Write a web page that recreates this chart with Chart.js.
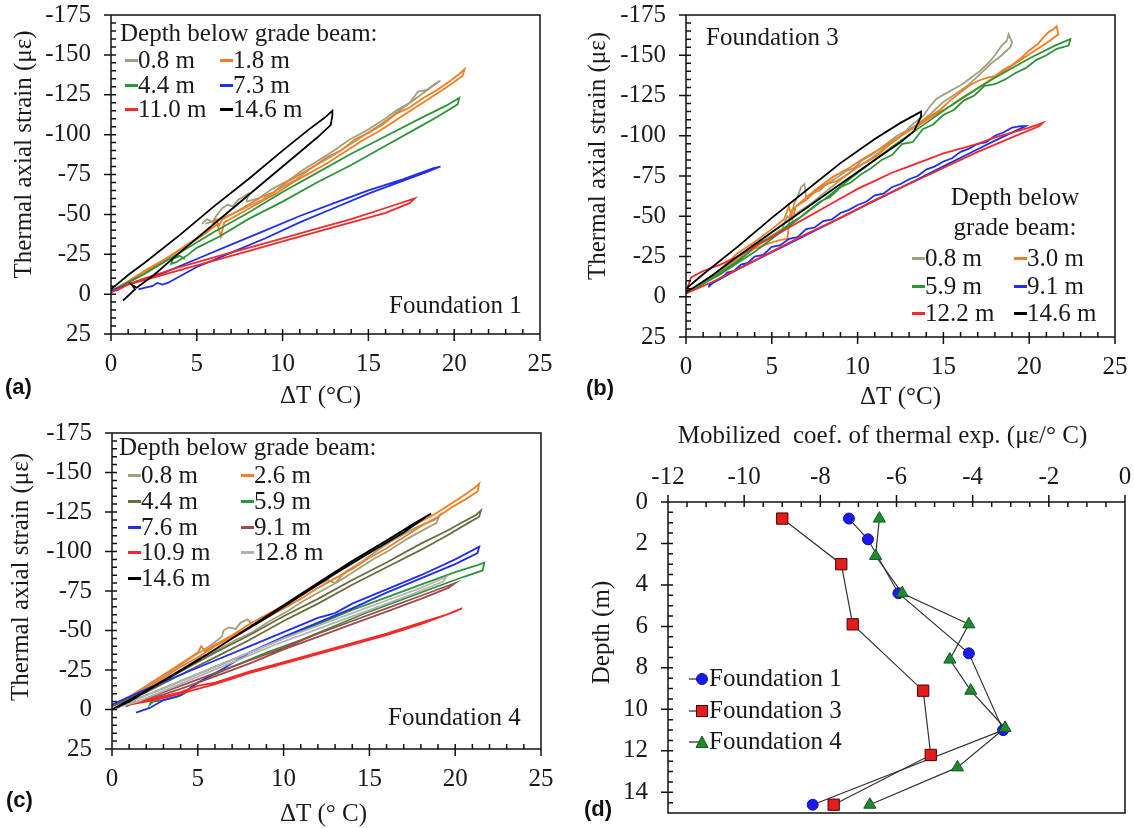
<!DOCTYPE html>
<html>
<head>
<meta charset="utf-8">
<title>Thermal axial strain vs temperature change</title>
<script src="https://cdn.jsdelivr.net/npm/chart.js@4.4.1/dist/chart.umd.min.js"></script>
<style>
  body { margin: 0; background: #fff; }
  #page { position: relative; width: 1134px; height: 828px; overflow: hidden;
          font-family: "Liberation Serif", "Times New Roman", serif; color: #1a1a1a; }
  canvas { position: absolute; }
  .txt { position: absolute; font-size: 25px; line-height: 26px; white-space: nowrap; }
  .tag { position: absolute; font: bold 22px/26px "Liberation Sans", Arial, sans-serif; color: #111; }
  .legend { position: absolute; display: grid; font-size: 25px; white-space: nowrap; }
  .legend i { display: inline-block; width: 13px; height: 3px; vertical-align: 6px; }
  .legend svg { vertical-align: -1px; }
</style>
</head>
<body>
<div id="page">
  <canvas id="chartA" width="565" height="410" style="left:0;top:0"></canvas>
  <canvas id="chartB" width="564" height="410" style="left:570px;top:0"></canvas>
  <canvas id="chartC" width="565" height="418" style="left:0;top:410px"></canvas>
  <canvas id="chartD" width="564" height="418" style="left:570px;top:410px"></canvas>

  <div class="txt" style="left:120px;top:20px">Depth below grade beam:</div>
  <div class="legend" id="legendA" style="left:125px;top:48px;grid-template-columns:95px 95px;line-height:24.5px"></div>
  <div class="txt" style="left:389px;top:292px">Foundation 1</div>

  <div class="txt" style="left:706px;top:24px">Foundation 3</div>
  <div class="txt" style="left:940px;top:182px;width:150px;text-align:center;line-height:30px">Depth below<br>grade beam:</div>
  <div class="legend" id="legendB" style="left:912px;top:244px;grid-template-columns:102px 102px;line-height:27.5px"></div>

  <div class="txt" style="left:119px;top:434px">Depth below grade beam:</div>
  <div class="legend" id="legendC" style="left:128px;top:462px;grid-template-columns:113px 113px;line-height:25.8px"></div>
  <div class="txt" style="left:388px;top:704px">Foundation 4</div>

  <div class="legend" id="legendD" style="left:689px;top:662px;grid-template-columns:170px;line-height:31.5px"></div>

  <div class="tag" style="left:5px;top:374px">(a)</div>
  <div class="tag" style="left:586px;top:375px">(b)</div>
  <div class="tag" style="left:6px;top:787px">(c)</div>
  <div class="tag" style="left:584px;top:796px">(d)</div>
</div>

<script>
// ---------- (a) Foundation 1: [dT (°C), strain (µε)] ----------
const depthsA = ["0.8 m", "1.8 m", "4.4 m", "7.3 m", "11.0 m", "14.6 m"];
const a08 = [[5.3,-44],[5.6,-47],[5.9,-45],[6.2,-50],[6.5,-54],[6.8,-56],[7.1,-55],[7.4,-59],[7.7,-61],[8.0,-63],[7.9,-58],[8.6,-60],[9.4,-66],[10.3,-71],[11.2,-78],[12.1,-84],[13.0,-90],[13.9,-97],[14.8,-102],[15.7,-108],[16.6,-115],[17.4,-120],[17.9,-127],[18.4,-128],[18.9,-132],[19.2,-134],[18.7,-130],[17.8,-123],[16.8,-115],[15.8,-107],[14.8,-100],[13.8,-93],[12.8,-86],[11.8,-80],[10.8,-72],[9.8,-66],[8.8,-59],[7.8,-54],[6.8,-49],[6.0,-46],[5.5,-44]];
const a18 = [[0,-2],[1,-8],[2,-15],[3,-21],[4,-28],[5,-35],[5.8,-41],[6.1,-47],[6.3,-43],[6.5,-47],[7.2,-51],[8,-56],[8.8,-61],[9.5,-64],[10.2,-70],[11,-75],[11.8,-80],[12.6,-86],[13.4,-90],[14.2,-97],[15,-101],[15.8,-106],[16.6,-113],[17.4,-117],[18.2,-123],[19,-128],[19.8,-134],[20.3,-138],[20.6,-141],[20.5,-137],[19.6,-130],[18.6,-123],[17.6,-116],[16.6,-109],[15.6,-102],[14.6,-96],[13.6,-89],[12.6,-82],[11.6,-76],[10.6,-70],[9.6,-63],[8.6,-57],[7.6,-51],[6.6,-45],[6.4,-36],[6.2,-44],[5.5,-38],[4.5,-31],[3.5,-24],[2.5,-17],[1.5,-10],[0.5,-4],[0,-1]];
const a44 = [[0,-2],[2,-13],[4,-26],[6,-39],[8,-51],[10,-64],[12,-76],[14,-88],[16,-99],[18,-110],[19.5,-118],[20.3,-123],[20.2,-119],[19,-111],[18,-105],[16,-93],[14,-81],[12,-70],[10,-58],[8,-47],[6.3,-36],[5,-29],[4.4,-24],[3.8,-20],[3.5,-19],[3.6,-22],[4.0,-24],[4.3,-22]];
const a73 = [[1.6,-3],[2.0,-4],[2.4,-5],[2.7,-7],[3.0,-6],[3.3,-7],[5,-17],[7,-26],[9,-35],[11,-45],[13,-54],[15,-63],[17,-71],[18.5,-77],[19.2,-80],[18.8,-79],[17,-72],[15,-65],[13,-57],[11,-49],[9,-40],[7,-31],[5,-22],[3,-13],[1.5,-8],[0.5,-4],[0,-2]];
const a110 = [[0,-1],[1,-6],[2,-10],[4,-17],[6,-23],[8,-29],[10,-35],[12,-41],[14,-47],[16,-54],[17.7,-60],[17.4,-57],[16,-51],[14,-45],[12,-39],[10,-33],[8,-27],[6,-21],[4,-15],[2,-9],[1,-6],[0.3,-2]];
const a146 = [[0,-3],[1,-12],[2,-20],[4,-37],[6,-55],[8,-72],[10,-90],[11.5,-103],[12.5,-111],[12.9,-115],[12.9,-112],[12.8,-106],[12,-98],[10,-80],[8,-62],[6,-44],[4,-26],[2.5,-12],[1.5,-4],[1.2,-6],[1.4,-3],[0.7,4]];

// ---------- (b) Foundation 3 ----------
const depthsB = ["0.8 m", "3.0 m", "5.9 m", "9.1 m", "12.2 m", "14.6 m"];
const b08 = [[0,-2],[1,-9],[2,-16],[3,-24],[4,-31],[5,-38],[5.6,-42],[5.9,-50],[6.1,-48],[6.3,-58],[6.5,-62],[6.7,-68],[6.9,-70],[7.0,-62],[7.3,-64],[7.8,-66],[8.3,-71],[8.8,-74],[9.3,-78],[9.8,-80],[10.3,-85],[10.8,-88],[11.3,-92],[11.8,-96],[12.3,-100],[12.8,-103],[13.3,-108],[13.8,-112],[14.2,-118],[14.6,-123],[15.1,-126],[15.6,-129],[16.1,-132],[16.6,-136],[17.1,-140],[17.6,-145],[18.0,-150],[18.4,-156],[18.7,-159],[18.8,-163],[19.0,-158],[18.9,-155],[18.4,-150],[17.8,-145],[17.1,-138],[16.4,-131],[15.7,-126],[15,-121],[14.3,-114],[13.6,-108],[12.9,-103],[12.2,-97],[11.5,-92],[10.8,-86],[10.1,-81],[9.4,-76],[8.7,-70],[8,-64],[7.3,-58],[6.6,-53],[6,-48],[5,-40],[4,-32],[3,-24],[2,-16],[1,-8],[0,-2]];
const b30 = [[0,-2],[1,-9],[2,-17],[3,-27],[4,-34],[5,-42],[5.7,-48],[6.0,-56],[6.2,-48],[6.4,-56],[7.0,-60],[7.6,-66],[8.2,-70],[8.8,-72],[9.4,-76],[10,-81],[10.6,-84],[11.2,-88],[11.8,-94],[12.4,-99],[13,-103],[13.6,-108],[14.2,-112],[14.8,-116],[15.4,-122],[16,-127],[16.5,-131],[17,-134],[17.5,-136],[18,-137],[18.5,-141],[19,-144],[19.5,-148],[20,-153],[20.5,-157],[20.9,-162],[21.2,-165],[21.4,-166],[21.6,-168],[21.7,-163],[21.2,-159],[20.5,-154],[19.5,-147],[18.5,-140],[17.5,-133],[16.5,-126],[15.5,-119],[14.5,-113],[13.5,-106],[12.5,-100],[11.5,-93],[10.5,-87],[9.5,-80],[8.5,-74],[7.5,-66],[6.6,-58],[6.1,-53],[6.0,-44],[5.9,-36],[5.4,-35],[4.8,-33],[4,-30],[3,-23],[2,-15],[1,-8],[0,-2]];
const b59 = [[0,-2],[2,-14],[4,-28],[6,-44],[8,-60],[10,-77],[12,-93],[14,-108],[16,-123],[18,-136],[20,-148],[21.5,-156],[22.4,-160],[22.3,-156],[21.6,-154],[21,-150],[20.4,-147],[19.8,-142],[19.2,-139],[18.6,-135],[18,-132],[17.4,-131],[16.8,-125],[16.2,-122],[15.6,-116],[15,-113],[14.4,-107],[13.8,-104],[13.2,-96],[12.6,-95],[12,-88],[11.4,-85],[10.8,-80],[10.2,-76],[9.6,-71],[9,-68],[8.4,-62],[7.8,-59],[7.2,-54],[6.6,-49],[6,-45],[5.4,-40],[4.8,-36],[4.2,-33],[3.6,-27],[3,-22],[2,-15],[1,-8],[0,-2]];
const b91 = [[1.3,-6],[1.6,-9],[2,-11],[2.4,-15],[2.8,-16],[3.2,-20],[3.6,-21],[4,-25],[4.5,-26],[5,-31],[5.5,-32],[6,-36],[6.5,-37],[7,-42],[7.5,-43],[8,-47],[8.5,-48],[9,-52],[9.5,-54],[10,-57],[10.5,-59],[11,-63],[11.5,-64],[12,-68],[12.5,-70],[13,-73],[13.5,-75],[14,-79],[14.5,-81],[15,-84],[15.5,-86],[16,-90],[16.5,-92],[17,-95],[17.5,-96],[18,-100],[18.5,-102],[19,-105],[19.5,-106],[19.8,-106],[19.2,-103],[18,-97],[16.5,-89],[15,-81],[13.5,-73],[12,-65],[10.5,-57],[9,-49],[7.5,-41],[6,-33],[4.5,-25],[3,-17],[2,-11],[1.3,-7]];
const b122 = [[0,-3],[0.3,-12],[1,-16],[2,-20],[3,-25],[4,-31],[5,-37],[6,-43],[7,-49],[8,-55],[9,-61],[10,-67],[11,-72],[12,-77],[13,-81],[14,-85],[15,-89],[16,-92],[17,-95],[18,-99],[19,-102],[20,-105],[20.8,-108],[20.6,-106],[19,-99],[17,-90],[15,-80],[13,-70],[11,-60],[9,-49],[7,-39],[5,-28],[3,-17],[1.5,-9],[0,-2]];
const b146 = [[0,-5],[1,-14],[3,-31],[5,-49],[7,-66],[9,-83],[11,-98],[12.5,-108],[13.7,-115],[13.7,-112],[13.3,-103],[12.5,-96],[11,-85],[9,-70],[7,-55],[5,-40],[3,-25],[1.5,-13],[0.5,-6],[0,-3]];

// ---------- (c) Foundation 4 ----------
const depthsC = ["0.8 m", "2.6 m", "4.4 m", "5.9 m", "7.6 m", "9.1 m", "10.9 m", "12.8 m", "14.6 m"];
const c08 = [[0,-2],[1.5,-11],[3,-21],[4.5,-32],[5.8,-41],[6.4,-46],[6.5,-50],[6.8,-52],[7.2,-51],[7.5,-55],[7.9,-57],[8.2,-53],[9,-58],[10,-65],[11,-72],[12,-79],[12.6,-82],[13,-80],[13.6,-87],[14.5,-93],[15.5,-101],[16.5,-108],[17.5,-114],[18.3,-118],[18.8,-120],[19.1,-123],[18.9,-118],[18.2,-114],[17.2,-108],[16.2,-101],[15.2,-95],[14.2,-88],[13.2,-81],[12.2,-75],[11.2,-69],[10.2,-62],[9.2,-56],[8.2,-49],[7.2,-44],[6.2,-38],[5,-31],[3.5,-21],[2,-12],[0.5,-3]];
const c26 = [[0,-3],[1,-8],[2,-15],[3,-22],[4,-29],[5,-36],[5.2,-40],[5.4,-37],[6,-41],[7,-47],[8,-54],[9,-60],[10,-66],[11,-73],[12,-80],[13,-87],[14,-94],[15,-100],[16,-107],[17,-113],[18,-119],[18.7,-123],[19.3,-127],[20,-132],[20.7,-137],[21.1,-140],[21.4,-143],[21.3,-138],[20.6,-133],[19.8,-128],[19,-122],[18,-116],[17,-109],[16,-102],[15,-96],[14,-89],[13,-83],[12,-77],[11,-70],[10,-64],[9,-58],[8,-52],[7,-46],[6,-40],[5,-33],[4,-27],[3,-20],[2,-13],[1,-7],[0,-2]];
const c44 = [[0,-2],[2,-12],[4,-24],[6,-36],[8,-47],[10,-59],[12,-70],[14,-82],[16,-93],[18,-105],[19.5,-113],[20.5,-119],[21.2,-123],[21.5,-126],[21.4,-122],[20.6,-117],[19.5,-110],[18,-101],[16,-90],[14,-79],[12,-67],[10,-56],[8,-44],[6,-33],[4,-22],[2,-11],[0,-2]];
const c59 = [[0.5,-3],[2,-9],[4,-18],[6,-27],[8,-36],[10,-45],[12,-54],[14,-63],[16,-71],[18,-79],[20,-87],[21.2,-91],[21.7,-93],[21.6,-88],[20.5,-84],[19,-78],[17,-70],[15,-62],[13,-53],[11,-44],[9,-36],[7,-27],[5.5,-20],[4.7,-15],[4.2,-10],[3.8,-8],[3,-6],[2.4,-5],[2.2,-3],[2.3,-6]];
const c76 = [[0,-3],[2,-13],[4,-22],[6,-31],[8,-40],[10,-49],[12,-58],[13,-61],[14,-67],[16,-76],[18,-85],[20,-95],[21.4,-103],[21.3,-99],[20,-92],[18,-83],[16,-74],[14,-64],[12,-55],[10,-46],[8,-36],[6.5,-26],[5,-17],[4,-9],[3,-6],[2.2,-1],[1.4,2]];
const c91 = [[0.8,-2],[2,-7],[4,-15],[6,-23],[8,-31],[10,-39],[12,-48],[14,-56],[16,-64],[18,-72],[19.5,-78],[20,-80],[19.6,-77],[18,-70],[16,-62],[14,-54],[12,-46],[10,-38],[8,-29],[6,-21],[4,-13],[2,-6],[1,-3]];
const c109 = [[0.3,-1],[0.8,-4],[1.5,-5],[2.5,-7],[4,-11],[5,-15],[6,-17],[8,-24],[10,-30],[12,-36],[14,-42],[16,-48],[18,-55],[19.5,-60],[20.4,-64],[20,-62],[18,-54],[16,-47],[14,-41],[12,-35],[10,-29],[8,-23],[6,-16],[4,-10],[2.5,-6],[1.5,-4],[0.8,-3]];
const c128 = [[0.5,-2],[2,-9],[4,-18],[6,-27],[8,-36],[10,-45],[12,-53],[14,-61],[16,-69],[18,-77],[19.5,-84],[19.3,-81],[17.5,-73],[15.5,-65],[13.5,-57],[11.5,-49],[9.5,-41],[7.5,-32],[5.5,-23],[3.5,-14],[1.5,-5],[0.5,-2]];
const c146 = [[0,0],[2,-12],[4,-25],[6,-38],[8,-52],[10,-66],[12,-80],[14,-94],[16,-107],[17.5,-117],[18.6,-124],[18.3,-122],[17,-112],[15,-99],[13,-86],[11,-72],[9,-58],[7,-45],[5,-31],[3,-18],[1,-5],[0.2,-1]];

// ---------- (d) mobilized coefficient vs depth ----------
const depthF1 = [0.8, 1.8, 4.4, 7.3, 11.0, 14.6];
const coefF1 = [-7.25, -6.75, -5.95, -4.1, -3.2, -8.2];
const depthF3 = [0.8, 3.0, 5.9, 9.1, 12.2, 14.6];
const coefF3 = [-9.0, -7.45, -7.15, -5.3, -5.1, -7.65];
const depthF4 = [0.8, 2.6, 4.4, 5.9, 7.6, 9.1, 10.9, 12.8, 14.6];
const coefF4 = [-6.45, -6.55, -5.85, -4.1, -4.6, -4.05, -3.15, -4.4, -6.7];

// colours
const GRAY = "#a39e7c", ORANGE = "#f47d22", GREEN = "#2e9438", BLUE = "#1f2ef0",
      RED = "#f22a2a", BLACK = "#000000", OLIVE = "#6b6c43", BROWN = "#9c4c4c", LIGHT = "#b3b3b3";
const colorsA = [GRAY, ORANGE, GREEN, BLUE, RED, BLACK];
const colorsC = [GRAY, ORANGE, OLIVE, GREEN, BLUE, BROWN, RED, LIGHT, BLACK];

const FONT = "'Liberation Serif', 'Times New Roman', serif";
const INK = "#1a1a1a";
Chart.defaults.font.family = FONT;
Chart.defaults.color = INK;

function isMajor(v, step) {
  const r = v / step;
  return Math.abs(r - Math.round(r)) < 1e-6;
}

// fixed axis size, and no extra label padding pushing the plot area around
function fixSize(prop, size) {
  return (s) => {
    s[prop] = size;
    s.paddingLeft = s.paddingRight = s.paddingTop = s.paddingBottom = 0;
  };
}

// box around the plot, inside minor ticks, crossing major ticks, axis titles
function frameTicks(cfg) {
  return {
    id: "frameTicks",
    afterDraw(chart) {
      const ctx = chart.ctx;
      const a = chart.chartArea;
      const xs = chart.scales.x;
      const ys = chart.scales.y;
      ctx.save();
      ctx.strokeStyle = "#111";
      ctx.lineWidth = 1.5;
      ctx.beginPath();
      ctx.moveTo(a.left, a.top);
      ctx.lineTo(a.right, a.top);
      ctx.lineTo(a.right, a.bottom);
      ctx.lineTo(a.left, a.bottom);
      ctx.closePath();

      const topAxis = xs.options.position === "top";
      const edge = topAxis ? a.top : a.bottom;
      const inward = topAxis ? 1 : -1;
      let n = Math.round((cfg.xMax - cfg.xMin) / cfg.xMinor);
      for (let i = 0; i <= n; i++) {
        const v = cfg.xMin + i * cfg.xMinor;
        const p = xs.getPixelForValue(v);
        ctx.moveTo(p, edge + inward * 5);
        ctx.lineTo(p, isMajor(v, cfg.xMajor) ? edge - inward * 7 : edge);
      }
      n = Math.round((cfg.yMax - cfg.yMin) / cfg.yMinor);
      for (let i = 0; i <= n; i++) {
        const v = cfg.yMin + i * cfg.yMinor;
        const p = ys.getPixelForValue(v);
        ctx.moveTo(a.left + 5, p);
        ctx.lineTo(isMajor(v, cfg.yMajor) ? a.left - 7 : a.left, p);
      }
      ctx.stroke();

      ctx.fillStyle = INK;
      ctx.font = "25px " + FONT;
      ctx.textAlign = "center";
      ctx.textBaseline = "middle";
      ctx.save();
      ctx.translate(cfg.yTitleX, (a.top + a.bottom) / 2 + cfg.yTitleDy);
      ctx.rotate(-Math.PI / 2);
      ctx.fillText(cfg.yTitle, 0, 0);
      ctx.restore();
      ctx.fillText(cfg.xTitle, (a.left + a.right) / 2 + cfg.xTitleDx, cfg.xTitleY);
      ctx.restore();
    },
  };
}

function strainChart(id, labels, colors, series, box, xTitle) {
  const datasets = series.map((pts, i) => ({
    label: labels[i],
    data: pts.map((p) => ({ x: p[0], y: p[1] })),
    borderColor: colors[i],
    borderWidth: 1.8,
    showLine: true,
    pointRadius: 0,
    order: series.length - i,
  }));
  const frame = frameTicks({
    xMin: 0, xMax: 25, xMajor: 5, xMinor: 1,
    yMin: -175, yMax: 25, yMajor: 25, yMinor: 5,
    yTitle: "Thermal axial strain (με)", yTitleX: box.titleX, yTitleDy: box.titleDy,
    xTitle: xTitle, xTitleY: box.titleY, xTitleDx: box.titleDx,
  });
  return new Chart(document.getElementById(id), {
    type: "scatter",
    data: { datasets },
    options: {
      responsive: false,
      animation: false,
      layout: { padding: { top: box.top, right: box.right, left: 0, bottom: 0 } },
      plugins: { legend: { display: false }, tooltip: { enabled: false } },
      scales: {
        x: {
          type: "linear",
          min: 0,
          max: 25,
          grid: { display: false, drawTicks: false },
          border: { display: false },
          ticks: { stepSize: 5, padding: 15, font: { size: 25 } },
          afterFit: fixSize("height", box.xh),
        },
        y: {
          reverse: true,
          min: -175,
          max: 25,
          grid: { display: false, drawTicks: false },
          border: { display: false },
          ticks: { stepSize: 25, padding: 20, font: { size: 25 } },
          afterFit: fixSize("width", box.yw),
        },
      },
    },
    plugins: [frame],
  });
}

function lineLegend(el, chart) {
  chart.data.datasets.forEach((ds) => {
    const item = document.createElement("span");
    const swatch = document.createElement("i");
    swatch.style.background = ds.borderColor;
    item.append(swatch, ds.label);
    el.appendChild(item);
  });
}

function markerLegend(el, chart) {
  chart.data.datasets.forEach((ds) => {
    let shape;
    if (ds.pointStyle === "rect") {
      shape = `<rect x="7.5" y="2.5" width="11" height="11" fill="${ds.pointBackgroundColor}" stroke="${ds.pointBorderColor}"/>`;
    } else if (ds.pointStyle === "triangle") {
      shape = `<polygon points="13,2 19,13.5 7,13.5" fill="${ds.pointBackgroundColor}" stroke="${ds.pointBorderColor}"/>`;
    } else {
      shape = `<circle cx="13" cy="8" r="5.5" fill="${ds.pointBackgroundColor}" stroke="${ds.pointBorderColor}"/>`;
    }
    const row = document.createElement("div");
    row.innerHTML = `<svg width="20" height="16"><line x1="0" y1="8" x2="12" y2="8" stroke="#333" stroke-width="1.3"/>${shape}</svg>${ds.label}`;
    el.appendChild(row);
  });
}

const chartA = strainChart("chartA", depthsA, colorsA, [a08, a18, a44, a73, a110, a146],
  { yw: 111, top: 15, right: 25, xh: 76, titleX: 24, titleDy: -20, titleY: 396, titleDx: -5 }, "ΔT (°C)");
const chartB = strainChart("chartB", depthsB, colorsA, [b08, b30, b59, b91, b122, b146],
  { yw: 116, top: 15, right: 19, xh: 73, titleX: 28, titleDy: -20, titleY: 397, titleDx: 0 }, "ΔT (°C)");
const chartC = strainChart("chartC", depthsC, colorsC, [c08, c26, c44, c59, c76, c91, c109, c128, c146],
  { yw: 112, top: 23, right: 24, xh: 79, titleX: 21, titleDy: -14, titleY: 404, titleDx: -3 }, "ΔT (° C)");

const profile = (coef, depth) => coef.map((c, i) => ({ x: c, y: depth[i] }));

const chartD = new Chart(document.getElementById("chartD"), {
  type: "scatter",
  data: {
    datasets: [
      { label: "Foundation 1", data: profile(coefF1, depthF1), pointStyle: "circle", pointRadius: 5.5,
        pointBackgroundColor: "#1a1aee", pointBorderColor: "#1010b0", order: 3 },
      { label: "Foundation 3", data: profile(coefF3, depthF3), pointStyle: "rect", pointRadius: 8,
        pointBackgroundColor: "#e51c1c", pointBorderColor: "#4a0505", order: 2 },
      { label: "Foundation 4", data: profile(coefF4, depthF4), pointStyle: "triangle", pointRadius: 7,
        pointBackgroundColor: "#1f8a30", pointBorderColor: "#0e5a1a", order: 1 },
    ].map((ds) => ({ ...ds, showLine: true, borderColor: "#333", borderWidth: 1.2, pointBorderWidth: 1 })),
  },
  options: {
    responsive: false,
    animation: false,
    layout: { padding: { top: 0, right: 8, left: 0, bottom: 15 } },
    plugins: { legend: { display: false }, tooltip: { enabled: false } },
    scales: {
      x: {
        type: "linear",
        position: "top",
        min: -12,
        max: 0,
        grid: { display: false, drawTicks: false },
        border: { display: false },
        ticks: { stepSize: 2, padding: 10, font: { size: 25 } },
        afterFit: fixSize("height", 92),
      },
      y: {
        reverse: true,
        min: 0,
        max: 15,
        grid: { display: false, drawTicks: false },
        border: { display: false },
        ticks: { stepSize: 2, includeBounds: false, padding: 20, font: { size: 25 } },
        afterFit: fixSize("width", 98),
      },
    },
  },
  plugins: [frameTicks({
    xMin: -12, xMax: 0, xMajor: 2, xMinor: 0.5,
    yMin: 0, yMax: 15, yMajor: 2, yMinor: 0.5,
    yTitle: "Depth (m)", yTitleX: 32, yTitleDy: -25,
    xTitle: "Mobilized  coef. of thermal exp. (με/° C)", xTitleY: 26, xTitleDx: -14,
  })],
});

lineLegend(document.getElementById("legendA"), chartA);
lineLegend(document.getElementById("legendB"), chartB);
lineLegend(document.getElementById("legendC"), chartC);
markerLegend(document.getElementById("legendD"), chartD);
</script>
</body>
</html>
